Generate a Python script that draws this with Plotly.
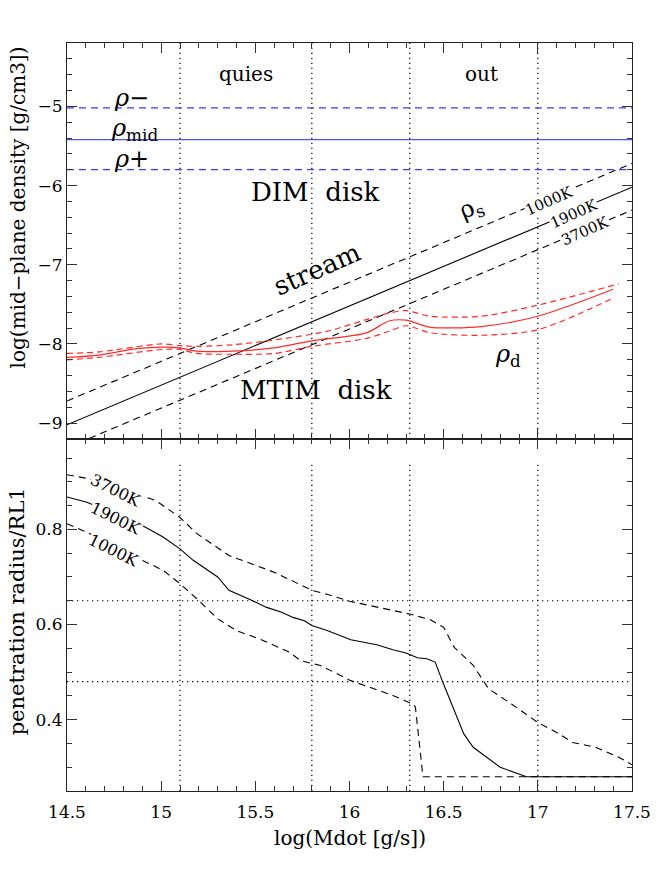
import plotly.graph_objects as go
from plotly.subplots import make_subplots

# ---------------- data ----------------
x_span = [14.5, 17.5]

# blue reference densities (top panel)
rho_minus = [-5.02, -5.02]
rho_mid = [-5.42, -5.42]
rho_plus = [-5.80, -5.80]

# stream densities rho_s for three temperatures
rho_s_1000 = [-8.72, -5.72]
rho_s_1900 = [-9.02, -6.02]
rho_s_3700 = [-9.31, -6.31]

# disk density rho_d and its band
rho_d_x = [14.5, 14.67, 14.87, 15.01, 15.10, 15.19, 15.38, 15.60, 15.80, 16.09, 16.21, 16.30, 16.37, 16.43, 16.70, 17.00, 17.40]
rho_d = [-8.17, -8.14, -8.06, -8.04, -8.05, -8.09, -8.09, -8.05, -7.96, -7.86, -7.71, -7.70, -7.75, -7.79, -7.78, -7.65, -7.31]
rho_d_up_x = [14.5, 14.67, 15.0, 15.10, 15.19, 15.38, 15.60, 15.88, 16.21, 16.30, 16.43, 16.70, 17.00, 17.43]
rho_d_up = [-8.12, -8.10, -8.00, -8.02, -8.03, -8.01, -7.95, -7.84, -7.61, -7.58, -7.65, -7.65, -7.51, -7.24]
rho_d_lo_x = [14.5, 14.67, 15.0, 15.10, 15.19, 15.38, 15.60, 15.80, 16.09, 16.21, 16.30, 16.43, 16.70, 17.00, 17.40]
rho_d_lo = [-8.20, -8.17, -8.07, -8.07, -8.12, -8.13, -8.12, -8.03, -7.93, -7.84, -7.77, -7.86, -7.89, -7.82, -7.42]

# penetration radius (bottom panel)
pr_3700_x = [14.5, 14.61, 14.9, 14.97, 15.1, 15.19, 15.36, 15.48, 15.6, 15.8, 15.885, 16.0, 16.15, 16.32, 16.43, 16.5,
             16.556, 16.657, 16.738, 16.86, 17.0, 17.1, 17.185, 17.307, 17.43, 17.5]
pr_3700 = [0.915, 0.907, 0.870, 0.861, 0.825, 0.791, 0.745, 0.728, 0.710, 0.672, 0.663, 0.649, 0.636, 0.622, 0.610, 0.594,
           0.552, 0.514, 0.465, 0.433, 0.394, 0.373, 0.352, 0.342, 0.321, 0.305]
pr_1900_x = [14.5, 14.606, 14.9, 15.01, 15.1, 15.17, 15.3, 15.36, 15.48, 15.56, 15.64, 15.70, 15.76, 15.80, 15.885, 16.007,
             16.15, 16.23, 16.30, 16.36, 16.41, 16.455, 16.495, 16.556, 16.607, 16.657, 16.718, 16.80, 16.94, 17.5]
pr_1900 = [0.868, 0.857, 0.808, 0.784, 0.759, 0.735, 0.700, 0.672, 0.651, 0.636, 0.626, 0.615, 0.608, 0.598, 0.587, 0.568,
           0.557, 0.547, 0.540, 0.530, 0.528, 0.521, 0.479, 0.419, 0.370, 0.342, 0.324, 0.300, 0.280, 0.280]
pr_1000_x = [14.5, 14.606, 14.9, 15.01, 15.1, 15.19, 15.30, 15.40, 15.52, 15.68, 15.74, 15.845, 16.007, 16.13, 16.23,
             16.34, 16.35, 16.39, 17.5]
pr_1000 = [0.812, 0.794, 0.735, 0.714, 0.686, 0.654, 0.612, 0.587, 0.570, 0.542, 0.524, 0.514, 0.482, 0.465, 0.451,
           0.432, 0.426, 0.280, 0.280]

regime_x = [15.1, 15.8, 16.32, 17.0]
pr_levels = [0.65, 0.48]

x_ticks = [14.5, 15, 15.5, 16, 16.5, 17, 17.5]
x_ticklabels = ["14.5", "15", "15.5", "16", "16.5", "17", "17.5"]

# ---------------- figure ----------------
FONT = "DejaVu Serif"
BLUE = "#3c3cff"
RED = "#ff2a2a"
DASH = "7px,5px"
DOT = "1.3px,3.7px"

fig = make_subplots(rows=2, cols=1, shared_xaxes=True, vertical_spacing=0,
                    row_heights=[396, 352])

def line(x, y, row, color="black", dash="solid", width=1.1, shape="linear"):
    fig.add_trace(go.Scatter(x=x, y=y, mode="lines",
                             line=dict(color=color, dash=dash, width=width, shape=shape, smoothing=0.8),
                             showlegend=False, hoverinfo="skip"), row=row, col=1)

# regime verticals and reference levels
for xv in regime_x:
    line([xv, xv], [-9.2, -4.2], 1, dash=DOT, width=1.2)
    line([xv, xv], [0.25, 0.94], 2, dash=DOT, width=1.2)
for yv in pr_levels:
    line(x_span, [yv, yv], 2, dash=DOT, width=1.2)

line(x_span, rho_minus, 1, BLUE, DASH, 1.3)
line(x_span, rho_mid, 1, "#5050ff", "solid", 1.3)
line(x_span, rho_plus, 1, BLUE, DASH, 1.3)

line(x_span, rho_s_1000, 1, "black", DASH)
line(x_span, rho_s_1900, 1, "black", "solid")
line(x_span, rho_s_3700, 1, "black", DASH)

line(rho_d_up_x, rho_d_up, 1, RED, "6px,4px", 1.2, "spline")
line(rho_d_x, rho_d, 1, RED, "solid", 1.2, "spline")
line(rho_d_lo_x, rho_d_lo, 1, RED, "6px,4px", 1.2, "spline")

line(pr_3700_x, pr_3700, 2, "black", DASH)
line(pr_1900_x, pr_1900, 2, "black", "solid")
line(pr_1000_x, pr_1000, 2, "black", DASH)

axis_common = dict(showline=True, linecolor="#222", linewidth=1.2, mirror="allticks",
                   ticks="inside", ticklen=10, tickcolor="#333", tickwidth=1,
                   showgrid=False, zeroline=False,
                   tickfont=dict(family=FONT, size=17, color="black"))

fig.update_xaxes(**axis_common, range=[14.5, 17.5], tickvals=x_ticks, ticktext=x_ticklabels,
                 ticklabelstandoff=5,
                 minor=dict(ticks="inside", dtick=0.1, tick0=14.5, ticklen=5, tickcolor="#333", showgrid=False))
fig.update_xaxes(showticklabels=False, row=1, col=1)
fig.update_yaxes(**axis_common)
fig.update_yaxes(range=[-9.2, -4.2], tickvals=[-9, -8, -7, -6, -5],
                 minor=dict(ticks="inside", dtick=0.2, tick0=-9, ticklen=5, tickcolor="#333", showgrid=False),
                 row=1, col=1)
fig.update_yaxes(range=[0.25, 0.99], tickvals=[0.4, 0.6, 0.8], ticktext=["0.4", "0.6", "0.8"],
                 minor=dict(ticks="inside", dtick=0.05, tick0=0.25, ticklen=5, tickcolor="#333", showgrid=False),
                 row=2, col=1)

def note(text, x, y, size=20, angle=0, row=1, bg=None):
    yref = "y" if row == 1 else "y2"
    fig.add_annotation(x=x, y=y, xref="x", yref=yref, text=text, showarrow=False, textangle=angle,
                       xanchor="center", yanchor="middle",
                       font=dict(family=FONT, size=size, color="black"),
                       bgcolor=bg, borderpad=0)

# top panel labels
note("quies", 15.45, -4.59, 20)
note("out", 16.70, -4.59, 20)
note("<i>ρ</i>−", 14.84, -4.89, 24)
note("<i>ρ</i><sub>mid</sub>", 14.86, -5.29, 24)
note("<i>ρ</i>+", 14.84, -5.67, 24)
note("DIM  disk", 15.82, -6.08, 26)
note("ρ<sub>s</sub>", 16.65, -6.29, 24, -23)
note("1000K", 17.06, -6.19, 15, -24, bg="white")
note("1900K", 17.19, -6.36, 15, -24, bg="white")
note("3700K", 17.25, -6.57, 15, -24, bg="white")
note("stream", 15.83, -7.05, 26, -24)
note("<i>ρ</i><sub>d</sub>", 16.84, -8.15, 24)
note("MTIM  disk", 15.82, -8.58, 26)

# bottom panel labels
note("3700K", 14.76, 0.882, 16, 26, row=2, bg="white")
note("1900K", 14.76, 0.823, 16, 26, row=2, bg="white")
note("1000K", 14.75, 0.756, 16, 26, row=2, bg="white")

# axis titles
fig.add_annotation(text="log(mid−plane density [g/cm3])", xref="paper", yref="paper",
                   x=-0.087, y=0.78, xanchor="center", yanchor="middle", showarrow=False, textangle=-90,
                   font=dict(family=FONT, size=20, color="black"))
fig.add_annotation(text="penetration radius/RL1", xref="paper", yref="paper",
                   x=-0.087, y=0.24, xanchor="center", yanchor="middle", showarrow=False, textangle=-90,
                   font=dict(family=FONT, size=21, color="black"))
fig.add_annotation(text="log(Mdot [g/s])", xref="paper", yref="paper",
                   x=0.5, y=-0.063, xanchor="center", yanchor="middle", showarrow=False,
                   font=dict(family=FONT, size=20, color="black"))

fig.update_layout(width=664, height=880, margin=dict(l=67, r=32, t=43, b=89),
                  paper_bgcolor="white", plot_bgcolor="white", showlegend=False)

fig.write_html("out.html", config={"displayModeBar": False},
               post_script="document.body.style.margin='0px';document.body.style.overflow='hidden';")
